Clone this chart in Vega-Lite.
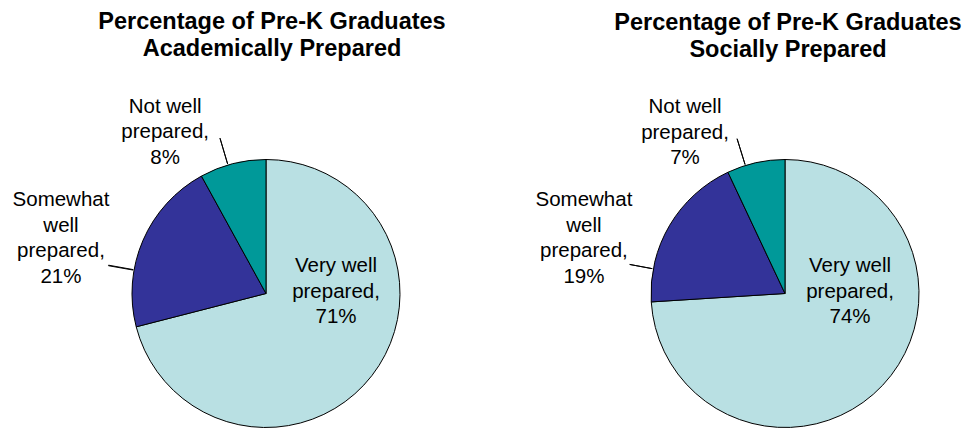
{
  "$schema": "https://vega.github.io/schema/vega-lite/v6.json",
  "padding": {"top": 10, "left": 0, "right": 0, "bottom": 0},
  "spacing": 70,
  "bounds": "flush",
  "background": "white",
  "config": {
    "view": {"stroke": null},
    "font": "Liberation Sans",
    "title": {"fontSize": 23.5, "fontWeight": "bold", "color": "#000", "lineHeight": 27, "anchor": "middle", "font": "Liberation Sans"},
    "text": {"fontSize": 20.5, "color": "#000", "lineHeight": 25.5, "align": "center", "baseline": "middle", "lineBreak": "\n"}
  },
  "hconcat": [
    {
      "width": 532,
      "height": 269,
      "title": {"text": ["Percentage of Pre-K Graduates", "Academically Prepared"], "offset": 36, "dx": 6},
      "data": {"values": [
        {"category": "Very well prepared", "value": 71},
        {"category": "Somewhat well prepared", "value": 21},
        {"category": "Not well prepared", "value": 8}
      ]},
      "transform": [
        {"stack": "value", "groupby": [], "sort": [{"field": "category", "order": "descending"}], "as": ["v0", "v1"]},
        {"calculate": "(datum.v0 + datum.v1) / 2", "as": "mid"}
      ],
      "layer": [
        {
          "mark": {"type": "arc", "outerRadius": 134, "stroke": "#000", "strokeWidth": 1},
          "encoding": {
            "theta": {"field": "v0", "type": "quantitative", "stack": null, "scale": {"domain": [0, 100]}},
            "theta2": {"field": "v1"},
            "color": {"field": "category", "type": "nominal", "legend": null,
              "scale": {"domain": ["Very well prepared", "Somewhat well prepared", "Not well prepared"], "range": ["#B9E0E3", "#333399", "#009999"]}}
          }
        },
        {
          "transform": [{"filter": "datum.category === 'Not well prepared'"}],
          "mark": {"type": "arc", "innerRadius": 135, "outerRadius": 162, "thetaOffset": 0.2147, "theta2Offset": -0.288, "filled": false, "stroke": "#000", "strokeWidth": 1},
          "encoding": {"theta": {"field": "v0", "type": "quantitative", "stack": null}, "theta2": {"field": "v1"}}
        },
        {
          "transform": [{"filter": "datum.category === 'Somewhat well prepared'"}],
          "mark": {"type": "arc", "innerRadius": 135, "outerRadius": 160, "thetaOffset": 0.4294, "theta2Offset": -0.8936, "filled": false, "stroke": "#000", "strokeWidth": 1},
          "encoding": {"theta": {"field": "v0", "type": "quantitative", "stack": null}, "theta2": {"field": "v1"}}
        },
        {
          "transform": [{"filter": "datum.category === 'Very well prepared'"}, {"calculate": "'Very well\\nprepared,\\n' + datum.value + '%'", "as": "label"}],
          "mark": {"type": "text", "radius": 75.2, "thetaOffset": -1.0332},
          "encoding": {"theta": {"field": "mid", "type": "quantitative", "stack": null}, "text": {"field": "label"}}
        },
        {
          "transform": [{"filter": "datum.category === 'Somewhat well prepared'"}, {"calculate": "'Somewhat\\nwell\\nprepared,\\n' + datum.value + '%'", "as": "label"}],
          "mark": {"type": "text", "radius": 225.3, "thetaOffset": 0.0192},
          "encoding": {"theta": {"field": "mid", "type": "quantitative", "stack": null}, "text": {"field": "label"}}
        },
        {
          "transform": [{"filter": "datum.category === 'Not well prepared'"}, {"calculate": "'Not well\\nprepared,\\n' + datum.value + '%'", "as": "label"}],
          "mark": {"type": "text", "radius": 212.1, "thetaOffset": -0.2443},
          "encoding": {"theta": {"field": "mid", "type": "quantitative", "stack": null}, "text": {"field": "label"}}
        }
      ]
    },
    {
      "width": 366,
      "height": 269,
      "title": {"text": ["Percentage of Pre-K Graduates", "Socially Prepared"], "offset": 36, "dx": 3},
      "data": {"values": [
        {"category": "Very well prepared", "value": 74},
        {"category": "Somewhat well prepared", "value": 19},
        {"category": "Not well prepared", "value": 7}
      ]},
      "transform": [
        {"stack": "value", "groupby": [], "sort": [{"field": "category", "order": "descending"}], "as": ["v0", "v1"]},
        {"calculate": "(datum.v0 + datum.v1) / 2", "as": "mid"}
      ],
      "layer": [
        {
          "mark": {"type": "arc", "outerRadius": 134, "stroke": "#000", "strokeWidth": 1},
          "encoding": {
            "theta": {"field": "v0", "type": "quantitative", "stack": null, "scale": {"domain": [0, 100]}},
            "theta2": {"field": "v1"},
            "color": {"field": "category", "type": "nominal", "legend": null,
              "scale": {"domain": ["Very well prepared", "Somewhat well prepared", "Not well prepared"], "range": ["#B9E0E3", "#333399", "#009999"]}}
          }
        },
        {
          "transform": [{"filter": "datum.category === 'Not well prepared'"}],
          "mark": {"type": "arc", "innerRadius": 135, "outerRadius": 162, "thetaOffset": 0.1396, "theta2Offset": -0.3002, "filled": false, "stroke": "#000", "strokeWidth": 1},
          "encoding": {"theta": {"field": "v0", "type": "quantitative", "stack": null}, "theta2": {"field": "v1"}}
        },
        {
          "transform": [{"filter": "datum.category === 'Somewhat well prepared'"}],
          "mark": {"type": "arc", "innerRadius": 135, "outerRadius": 158, "thetaOffset": 0.2478, "theta2Offset": -0.946, "filled": false, "stroke": "#000", "strokeWidth": 1},
          "encoding": {"theta": {"field": "v0", "type": "quantitative", "stack": null}, "theta2": {"field": "v1"}}
        },
        {
          "transform": [{"filter": "datum.category === 'Very well prepared'"}, {"calculate": "'Very well\\nprepared,\\n' + datum.value + '%'", "as": "label"}],
          "mark": {"type": "text", "radius": 70.6, "thetaOffset": -1.1537},
          "encoding": {"theta": {"field": "mid", "type": "quantitative", "stack": null}, "text": {"field": "label"}}
        },
        {
          "transform": [{"filter": "datum.category === 'Somewhat well prepared'"}, {"calculate": "'Somewhat\\nwell\\nprepared,\\n' + datum.value + '%'", "as": "label"}],
          "mark": {"type": "text", "radius": 221.7, "thetaOffset": -0.0995},
          "encoding": {"theta": {"field": "mid", "type": "quantitative", "stack": null}, "text": {"field": "label"}}
        },
        {
          "transform": [{"filter": "datum.category === 'Not well prepared'"}, {"calculate": "'Not well\\nprepared,\\n' + datum.value + '%'", "as": "label"}],
          "mark": {"type": "text", "radius": 211.6, "thetaOffset": -0.2723},
          "encoding": {"theta": {"field": "mid", "type": "quantitative", "stack": null}, "text": {"field": "label"}}
        }
      ]
    }
  ]
}
